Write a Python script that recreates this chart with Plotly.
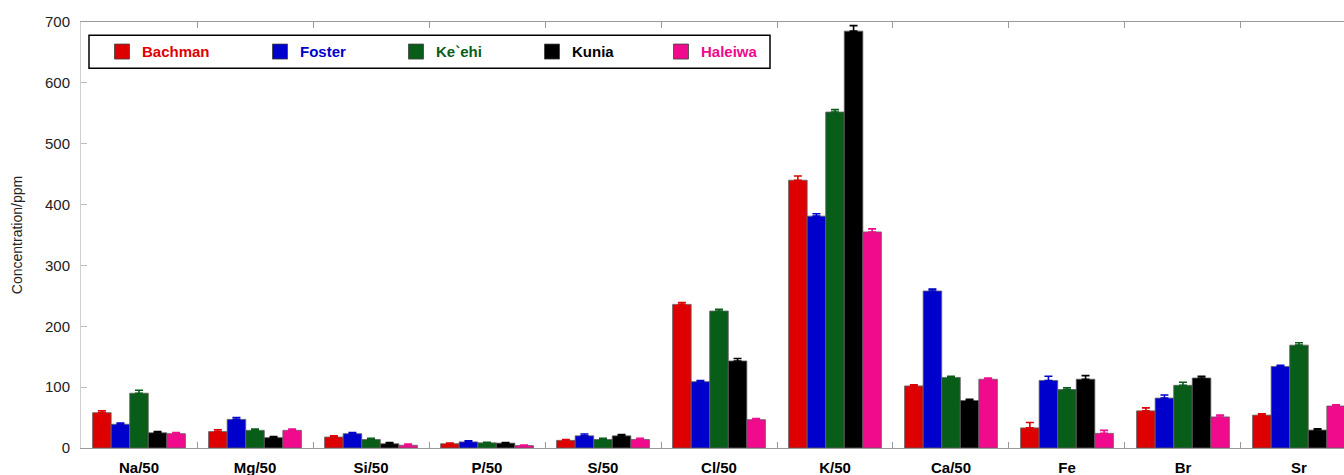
import plotly.graph_objects as go

categories = ["Na/50", "Mg/50", "Si/50", "P/50", "S/50", "Cl/50", "K/50", "Ca/50", "Fe", "Br", "Sr"]
sites = ["Bachman", "Foster", "Ke`ehi", "Kunia", "Haleiwa"]

bachman = [58, 27, 18, 7, 12.5, 236, 440, 102, 33, 61, 54]
foster = [39, 47, 23.5, 10, 20, 109, 381, 258, 111, 82, 134]
keehi = [90, 29, 14, 8.5, 14, 225, 552, 116, 96, 103, 169]
kunia = [25, 17, 7, 8, 20, 143, 685, 78, 113, 115, 29.5]
haleiwa = [23.5, 29, 4.5, 4, 14, 46.5, 355, 113, 24, 51, 69]

bachman_err = [3, 3, 2, 1, 1.5, 3, 7, 2, 9, 5, 2]
foster_err = [2, 3, 2, 2, 3, 2, 4, 3, 7, 5, 2]
keehi_err = [5, 2, 2, 1, 2, 3, 4, 2, 3, 5, 4]
kunia_err = [2, 2, 2, 1, 2, 4, 9, 2, 6, 3, 2]
haleiwa_err = [2, 2, 2, 1, 2, 2, 5, 2, 5, 3, 2]

values = [bachman, foster, keehi, kunia, haleiwa]
errors = [bachman_err, foster_err, keehi_err, kunia_err, haleiwa_err]
colors = ["#DE0000", "#0000CC", "#085E18", "#000000", "#F00A8C"]

FONT = "Arial, Liberation Sans, sans-serif"

fig = go.Figure()
for name, vals, errs, col in zip(sites, values, errors, colors):
    fig.add_trace(go.Bar(
        x=categories, y=vals, name=name, showlegend=False,
        marker=dict(color=col, line=dict(color="#606060", width=0.8)),
        error_y=dict(type="data", array=errs, arrayminus=[0] * len(errs),
                     symmetric=False, color=col, thickness=1.6, width=4),
    ))

# legend entries (one legend each so spacing matches)
legend_px = [102, 260, 396, 532, 661]
plot_left, plot_w = 81, 1263
legend_layouts = {}
for i, (name, col, px) in enumerate(zip(sites, colors, legend_px)):
    lg = "legend" if i == 0 else f"legend{i + 1}"
    fig.add_trace(go.Scatter(
        x=[None], y=[None], mode="markers", name=name, legend=lg,
        marker=dict(symbol="square", size=15, color=col, line=dict(color="#404040", width=0.8)),
    ))
    legend_layouts[lg] = dict(
        x=(px - plot_left) / plot_w, xanchor="left", y=0.93, yanchor="middle",
        bgcolor="rgba(0,0,0,0)", borderwidth=0,
        font=dict(family=FONT, size=15, color=col, weight="bold"),
    )

fig.add_shape(type="rect", xref="paper", yref="paper",
              x0=(89 - plot_left) / plot_w, x1=(770 - plot_left) / plot_w,
              y0=(447.7 - 68) / 426, y1=(447.7 - 35) / 426,
              line=dict(color="black", width=1.5), fillcolor="rgba(0,0,0,0)")

fig.update_layout(
    width=1344, height=475,
    margin=dict(l=81, r=0, t=22, b=27, autoexpand=False),
    paper_bgcolor="white", plot_bgcolor="white",
    barmode="group", bargap=0.2, bargroupgap=0,
    font=dict(family=FONT, size=15, color="#222"),
    **legend_layouts,
)
fig.update_xaxes(
    range=[-0.5, 10.388], tickson="boundaries", ticks="inside", ticklen=6,
    tickcolor="#999", linecolor="#999", linewidth=1, mirror="ticks",
    showgrid=False, tickfont=dict(family=FONT, size=15, color="black", weight="bold"),
    ticklabelstandoff=6, automargin=False,
)
fig.update_yaxes(
    range=[0, 700], dtick=100, ticks="inside", ticklen=6, tickcolor="#bbb",
    linecolor="#d0d0d0", linewidth=1, showgrid=False, zeroline=False,
    tickfont=dict(family=FONT, size=15, color="#222"), automargin=False,
    ticklabelstandoff=7,
    title=dict(text="Concentration/ppm", font=dict(family=FONT, size=14, color="#222"), standoff=19),
)

fig.write_html("out.html", config={"displayModeBar": False},
               post_script="document.body.style.margin='0px';")
